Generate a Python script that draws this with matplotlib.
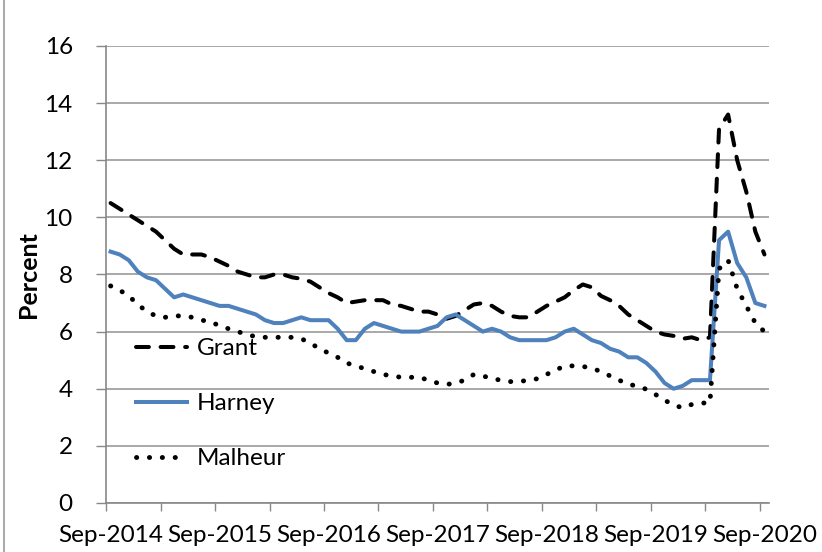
import numpy as np
import matplotlib.pyplot as plt
from matplotlib.lines import Line2D

# monthly unemployment rate, Sep-2014 .. Sep-2020
grant = [10.5, 10.3, 10.1, 9.9, 9.7, 9.5, 9.2, 8.9, 8.7, 8.7,
         8.7, 8.6, 8.45, 8.3, 8.1, 8.0, 7.9, 7.9, 8.0, 8.0,
         7.9, 7.85, 7.75, 7.55, 7.35, 7.2, 7.0, 7.05, 7.1, 7.1,
         7.1, 6.95, 6.9, 6.8, 6.7, 6.7, 6.6, 6.45, 6.55, 6.75,
         6.95, 7.0, 6.9, 6.7, 6.55, 6.5, 6.5, 6.7, 6.9, 7.05,
         7.2, 7.45, 7.65, 7.55, 7.25, 7.1, 6.9, 6.6, 6.4, 6.2,
         6.0, 5.9, 5.85, 5.75, 5.8, 5.7, 5.8, 13.1, 13.6, 12.0,
         10.9, 9.5, 8.7]
harney = [8.8, 8.7, 8.5, 8.1, 7.9, 7.8, 7.5, 7.2, 7.3, 7.2,
          7.1, 7.0, 6.9, 6.9, 6.8, 6.7, 6.6, 6.4, 6.3, 6.3,
          6.4, 6.5, 6.4, 6.4, 6.4, 6.1, 5.7, 5.7, 6.1, 6.3,
          6.2, 6.1, 6.0, 6.0, 6.0, 6.1, 6.2, 6.5, 6.6, 6.4,
          6.2, 6.0, 6.1, 6.0, 5.8, 5.7, 5.7, 5.7, 5.7, 5.8,
          6.0, 6.1, 5.9, 5.7, 5.6, 5.4, 5.3, 5.1, 5.1, 4.9,
          4.6, 4.2, 4.0, 4.1, 4.3, 4.3, 4.3, 9.2, 9.5, 8.4,
          7.9, 7.0, 6.9]
malheur = [7.6, 7.45, 7.25, 6.95, 6.7, 6.55, 6.5, 6.55, 6.55, 6.5,
           6.4, 6.35, 6.2, 6.1, 6.0, 5.9, 5.82, 5.8, 5.8, 5.8,
           5.8, 5.75, 5.6, 5.4, 5.25, 5.1, 4.9, 4.8, 4.7, 4.6,
           4.5, 4.45, 4.4, 4.4, 4.4, 4.3, 4.2, 4.15, 4.2, 4.3,
           4.5, 4.45, 4.35, 4.3, 4.25, 4.25, 4.3, 4.35, 4.5, 4.65,
           4.8, 4.8, 4.78, 4.72, 4.6, 4.45, 4.3, 4.15, 4.1, 3.98,
           3.8, 3.6, 3.43, 3.33, 3.45, 3.5, 3.5, 8.2, 8.5, 7.5,
           6.9, 6.3, 6.0]
year_labels = ['Sep-2014', 'Sep-2015', 'Sep-2016', 'Sep-2017',
               'Sep-2018', 'Sep-2019', 'Sep-2020']

plt.rcParams['font.family'] = ['Lato', 'DejaVu Sans']

fig = plt.figure(figsize=(8.22, 5.52), dpi=100)
ax = fig.add_axes([0.129, 0.0888, 0.8065, 0.8279])

x = np.arange(len(grant))
ax.plot(x, grant, color='black', lw=2.9, ls=(0, (3.2, 2.9)),
        dash_capstyle='round', label='Grant', zorder=3)
ax.plot(x, harney, color='#4F81BD', lw=2.9, label='Harney', zorder=3)
ax.plot(x, malheur, color='black', lw=3.5, ls=(0, (0.05, 2.6)),
        dash_capstyle='round', label='Malheur', zorder=3)

ax.set_xlim(-0.5, len(grant) - 0.5)
ax.set_ylim(0, 16)
ax.set_yticks(np.arange(0, 17, 2))
ax.set_xticks(np.arange(-0.5, len(grant), 6))
ax.set_xticklabels([])
ax.set_xticks(np.arange(0, len(grant), 12), minor=True)
ax.set_xticklabels(year_labels, minor=True)
ax.tick_params(axis='x', which='major', length=6, color='#888888', width=1)
ax.tick_params(axis='x', which='minor', length=0, pad=16, labelsize=17.5)
ax.tick_params(axis='y', length=7, color='#888888', width=1, labelsize=17.5, pad=17)

ax.grid(axis='y', color='#999999', lw=1.2)
ax.set_axisbelow(True)
for s in ['top', 'right']:
    ax.spines[s].set_visible(False)
for s in ['left', 'bottom']:
    ax.spines[s].set_color('#888888')
    ax.spines[s].set_linewidth(1.2)

ax.set_ylabel('Percent', fontsize=18, fontweight='bold')
ax.yaxis.set_label_coords(-0.1, 0.5)

ax.legend(loc='upper left', bbox_to_anchor=(0.031, 0.382), frameon=False,
          fontsize=17.5, handlelength=2.1, handletextpad=0.4,
          labelspacing=1.4, borderaxespad=0)

fig.add_artist(Line2D([0.005, 0.005], [0, 1], color='#999999', lw=1.2))

fig.savefig('out.png', dpi=100)
